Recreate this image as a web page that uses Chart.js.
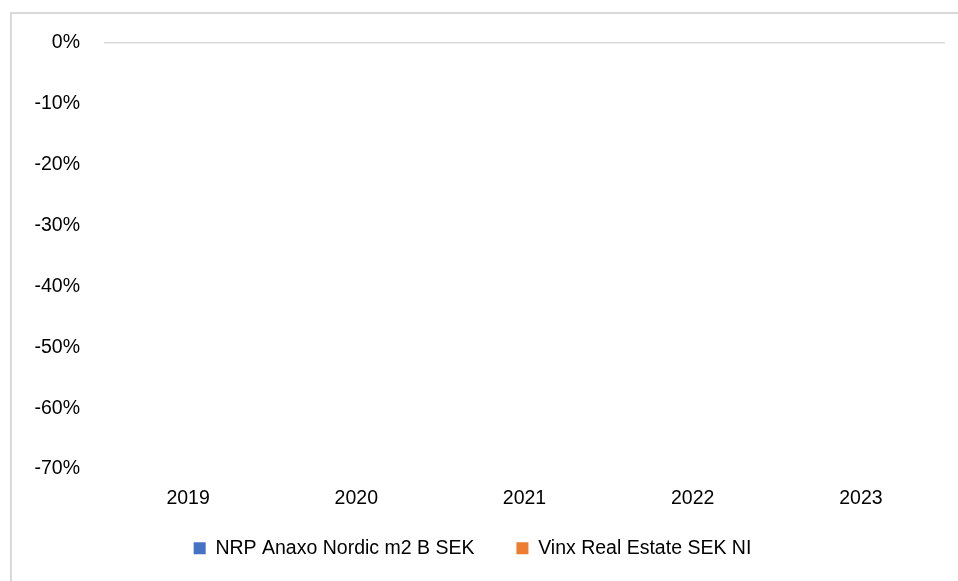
<!DOCTYPE html>
<html>
<head>
<meta charset="utf-8">
<script src="https://cdn.jsdelivr.net/npm/chart.js@4.4.0/dist/chart.umd.min.js"></script>
<style>
  html, body { margin: 0; padding: 0; background: #fff; overflow: hidden; }
  #frame {
    position: absolute; left: 10px; top: 12px; width: 980px; height: 600px;
    border-left: 2px solid #d9d9d9; border-top: 2px solid #d9d9d9;
  }
  #chart { position: absolute; left: 0; top: 0; }
</style>
</head>
<body>
<div id="frame"></div>
<canvas id="chart" width="958" height="581"></canvas>
<script>
// years on the category axis
var years = ['2019', '2020', '2021', '2022', '2023'];
// both series have no values in the picture
var nrpValues = [null, null, null, null, null];
var vinxValues = [null, null, null, null, null];
var seriesNames = ['NRP Anaxo Nordic m2 B SEK', 'Vinx Real Estate SEK NI'];
var seriesColors = ['#4472C4', '#ED7D31'];

var fontFamily = '"Liberation Sans", Arial, sans-serif';
var fontSize = 19.5;

// wide legend gap makes the legend box tall, so lift it up over the empty x-axis room
var legendShift = {
    id: 'legendShift',
    afterLayout: function (chart) {
        chart.legend.top -= 32;
        chart.legend.bottom -= 32;
    }
};

var ctx = document.getElementById('chart');
var myChart = new Chart(ctx, {
    type: 'bar',
    data: {
        labels: years,
        datasets: [
            { label: seriesNames[0], data: nrpValues, backgroundColor: seriesColors[0] },
            { label: seriesNames[1], data: vinxValues, backgroundColor: seriesColors[1] }
        ]
    },
    plugins: [legendShift],
    options: {
        responsive: false,
        animation: false,
        layout: {
            padding: { left: 0, right: 13, top: 43, bottom: -19 }
        },
        plugins: {
            legend: {
                position: 'bottom',
                labels: {
                    boxWidth: 12,
                    boxHeight: 12,
                    padding: 42,
                    color: '#000',
                    font: { family: fontFamily, size: fontSize }
                }
            },
            tooltip: { enabled: false }
        },
        scales: {
            x: {
                grid: { color: 'rgba(0,0,0,0)', drawTicks: false },
                border: { display: false },
                ticks: {
                    padding: 18,
                    color: '#000',
                    font: { family: fontFamily, size: fontSize }
                }
            },
            y: {
                min: -0.7,
                max: 0,
                border: { display: false },
                grid: {
                    drawTicks: false,
                    lineWidth: 1.5,
                    color: function (c) {
                        return c.tick && c.tick.value === 0 ? '#d9d9d9' : 'rgba(0,0,0,0)';
                    }
                },
                ticks: {
                    stepSize: 0.1,
                    padding: 24,
                    color: '#000',
                    font: { family: fontFamily, size: fontSize },
                    callback: function (v) { return Math.round(v * 100) + '%'; }
                },
                afterFit: function (axis) { axis.width = 104; }
            }
        }
    }
});
</script>
</body>
</html>
